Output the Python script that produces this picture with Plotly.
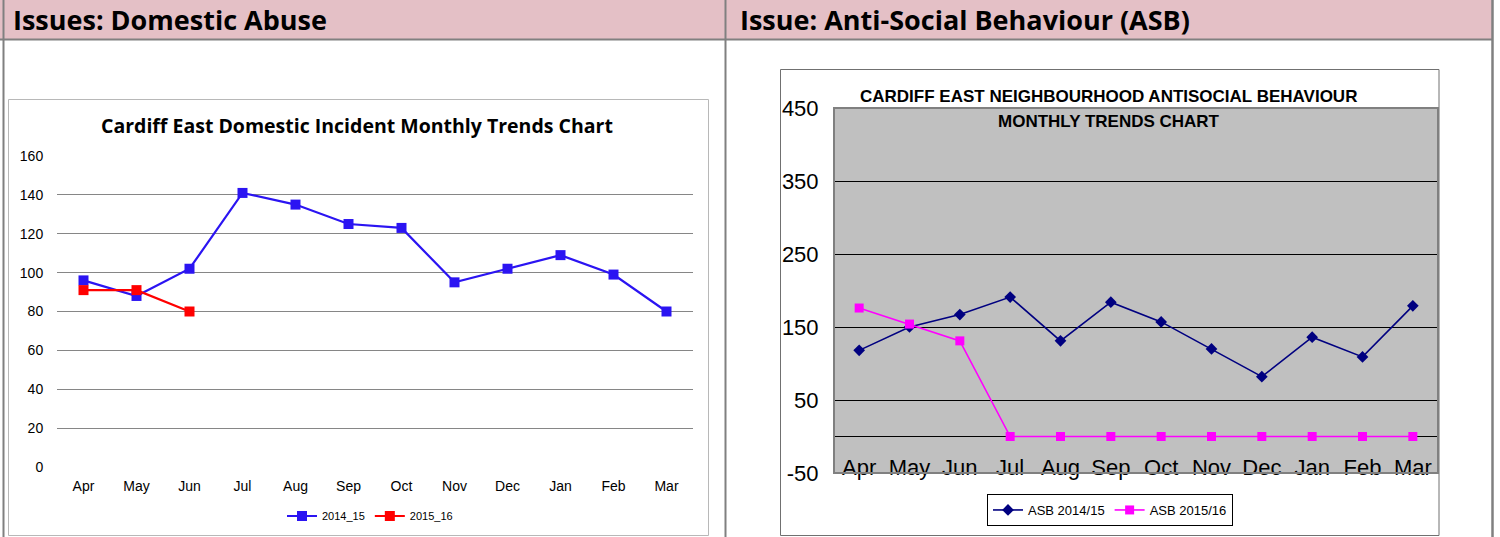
import plotly.graph_objects as go

# ---------------- data ----------------
months = ["Apr", "May", "Jun", "Jul", "Aug", "Sep", "Oct", "Nov", "Dec", "Jan", "Feb", "Mar"]
da_2014_15 = [96, 88, 102, 141, 135, 125, 123, 95, 102, 109, 99, 80]
da_2015_16 = [91, 91, 80]
da_ticks = [0, 20, 40, 60, 80, 100, 120, 140, 160]
da_grid = [20, 40, 60, 80, 100, 120, 140, 160]

asb_2014_15 = [118, 150, 167, 191, 131, 184, 157, 120, 82, 136, 109, 179]
asb_2015_16 = [176, 154, 131, 0, 0, 0, 0, 0, 0, 0, 0, 0]
asb_ticks = [-50, 50, 150, 250, 350, 450]
asb_tick_labels = ["-50", "50", "150", "250", "350", "450"]

W, H = 1500, 537
def px(x):
    return x / W
def py(y):
    return 1 - y / H

ARIAL = "Liberation Sans, Arial, sans-serif"
CAL = "Open Sans, Carlito, Calibri, sans-serif"

fig = go.Figure()

# ---- left chart traces ----
fig.add_trace(go.Scatter(
    x=months, y=da_2014_15, name="2014_15", mode="lines+markers",
    line=dict(color="#2B14F2", width=2.2),
    marker=dict(symbol="square", size=10, color="#2B14F2"),
    xaxis="x", yaxis="y", legend="legend"))
fig.add_trace(go.Scatter(
    x=months[:len(da_2015_16)], y=da_2015_16, name="2015_16", mode="lines+markers",
    line=dict(color="#FF0000", width=2.2),
    marker=dict(symbol="square", size=10, color="#FF0000"),
    xaxis="x", yaxis="y", legend="legend"))
# carrier for the grid-only overlay axis
fig.add_trace(go.Scatter(
    x=[months[0]], y=[None], mode="markers", showlegend=False, hoverinfo="skip",
    xaxis="x", yaxis="y3"))

# ---- right chart traces ----
fig.add_trace(go.Scatter(
    x=months, y=asb_2014_15, name="ASB 2014/15", mode="lines+markers",
    line=dict(color="#000080", width=1.6),
    marker=dict(symbol="diamond", size=9, color="#000080"),
    xaxis="x2", yaxis="y2", legend="legend2"))
fig.add_trace(go.Scatter(
    x=months, y=asb_2015_16, name="ASB 2015/16", mode="lines+markers",
    line=dict(color="#FF00FF", width=1.6),
    marker=dict(symbol="square", size=9, color="#FF00FF"),
    xaxis="x2", yaxis="y2", legend="legend2"))

# ---- page furniture ----
shapes = [
    dict(type="rect", xref="paper", yref="paper", x0=px(0), x1=px(1493), y0=py(0), y1=py(39.5),
         fillcolor="#E4C0C6", line=dict(width=0), layer="below"),
    dict(type="line", xref="paper", yref="paper", x0=px(0), x1=px(1493), y0=py(39.5), y1=py(39.5),
         line=dict(color="#808080", width=2), layer="below"),
    dict(type="line", xref="paper", yref="paper", x0=px(3.5), x1=px(3.5), y0=py(0), y1=py(537),
         line=dict(color="#808080", width=2), layer="below"),
    dict(type="line", xref="paper", yref="paper", x0=px(725.5), x1=px(725.5), y0=py(0), y1=py(537),
         line=dict(color="#808080", width=2), layer="below"),
    dict(type="line", xref="paper", yref="paper", x0=px(1492.5), x1=px(1492.5), y0=py(0), y1=py(537),
         line=dict(color="#808080", width=2.5), layer="below"),
    dict(type="rect", xref="paper", yref="paper", x0=px(8.5), x1=px(708.5), y0=py(99.5), y1=py(535.5),
         fillcolor="white", line=dict(color="#B8B8B8", width=1), layer="below"),
    dict(type="rect", xref="paper", yref="paper", x0=px(780.5), x1=px(1439), y0=py(69.5), y1=py(535.5),
         fillcolor="white", line=dict(color="#707070", width=1), layer="below"),
    # right plot area: fill below, border above
    dict(type="rect", xref="x2 domain", yref="y2 domain", x0=0, x1=1, y0=0, y1=1,
         fillcolor="#C0C0C0", line=dict(width=0), layer="below"),
    dict(type="rect", xref="x2 domain", yref="y2 domain", x0=0, x1=1, y0=0, y1=1,
         fillcolor="rgba(0,0,0,0)", line=dict(color="#808080", width=2), layer="above"),
]

annotations = [
    dict(text="<b>Issues: Domestic Abuse</b>", x=px(11), y=py(20), xref="paper", yref="paper",
         xanchor="left", yanchor="middle", showarrow=False,
         font=dict(family=CAL, size=27, color="black")),
    dict(text="<b>Issue: Anti-Social Behaviour (ASB)</b>", x=px(738), y=py(20), xref="paper", yref="paper",
         xanchor="left", yanchor="middle", showarrow=False,
         font=dict(family=CAL, size=27, color="black")),
    dict(text="<b>Cardiff East Domestic Incident Monthly Trends Chart</b>", x=px(357), y=py(126),
         xref="paper", yref="paper", xanchor="center", yanchor="middle", showarrow=False,
         font=dict(family=CAL, size=19.5, color="black")),
    dict(text="<b>CARDIFF EAST NEIGHBOURHOOD ANTISOCIAL BEHAVIOUR</b>", x=px(1108), y=py(97),
         xref="paper", yref="paper", xanchor="center", yanchor="middle", showarrow=False,
         font=dict(family=ARIAL, size=17, color="black")),
    dict(text="<b>MONTHLY TRENDS CHART</b>", x=px(1109), y=py(122),
         xref="paper", yref="paper", xanchor="center", yanchor="middle", showarrow=False,
         font=dict(family=ARIAL, size=17, color="black")),
]

fig.update_layout(
    width=W, height=H,
    margin=dict(l=0, r=0, t=0, b=0, pad=0, autoexpand=False),
    paper_bgcolor="white",
    plot_bgcolor="rgba(0,0,0,0)",
    shapes=shapes,
    annotations=annotations,
    xaxis=dict(domain=[px(57), px(693)], anchor="y", type="category",
               categoryorder="array", categoryarray=months, range=[-0.5, 11.5],
               showgrid=False, zeroline=False, showline=False, ticks="outside",
               ticklen=6, tickcolor="rgba(0,0,0,0)",
               tickfont=dict(family=ARIAL, size=14, color="black")),
    yaxis=dict(domain=[py(467), py(156)], anchor="x", range=[0, 160], tickvals=da_ticks,
               showgrid=False, zeroline=False, showline=False, ticks="outside",
               ticklen=10, tickcolor="rgba(0,0,0,0)",
               tickfont=dict(family=ARIAL, size=14, color="black")),
    yaxis3=dict(overlaying="y", anchor="x", range=[0, 160], tickvals=da_grid,
                showgrid=True, gridcolor="#868686", gridwidth=1, zeroline=False,
                showticklabels=False, showline=False),
    xaxis2=dict(domain=[px(834), px(1438)], anchor="free", position=py(452), type="category",
                categoryorder="array", categoryarray=months, range=[-0.5, 11.5],
                showgrid=False, zeroline=False, showline=False, ticks="",
                tickfont=dict(family=ARIAL, size=22, color="black")),
    yaxis2=dict(domain=[py(473), py(108)], anchor="x2", range=[-50, 450],
                tickvals=asb_ticks, ticktext=asb_tick_labels,
                showgrid=True, gridcolor="black", gridwidth=1, zeroline=True,
                zerolinecolor="black", zerolinewidth=1.2, showline=False,
                ticks="outside", ticklen=10, tickcolor="rgba(0,0,0,0)",
                tickfont=dict(family=ARIAL, size=22, color="black")),
    legend=dict(orientation="h", x=px(370), y=py(516), xanchor="center", yanchor="middle",
                font=dict(family=ARIAL, size=11, color="black"), bgcolor="rgba(0,0,0,0)",
                itemwidth=30, tracegroupgap=0),
    legend2=dict(orientation="h", x=px(1110), y=py(510), xanchor="center", yanchor="middle",
                 font=dict(family=ARIAL, size=13, color="black"), bgcolor="white",
                 bordercolor="black", borderwidth=1, itemwidth=30),
)

fig.write_html(
    "out.html",
    config={"displayModeBar": False},
    post_script="document.body.style.margin='0px';document.body.style.overflow='hidden';",
)
